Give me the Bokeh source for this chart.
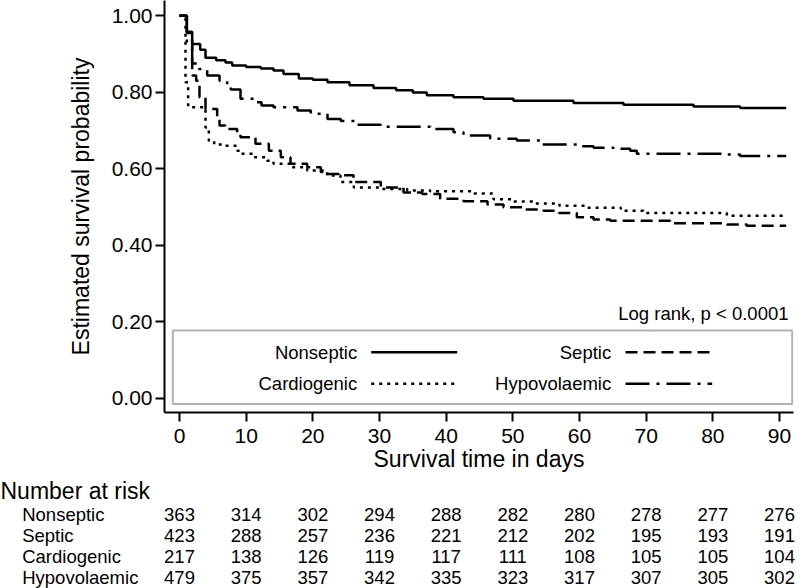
from bokeh.plotting import figure
from bokeh.models import Range1d, FixedTicker, PrintfTickFormatter, Label, BoxAnnotation, ColumnDataSource
from bokeh.layouts import column
from bokeh.embed import file_html
from bokeh.resources import INLINE
from bokeh.core.properties import value

# ---------------- data ----------------
groups = ["Nonseptic", "Septic", "Cardiogenic", "Hypovolaemic"]

nonseptic_days = [0, 1.1, 1.9, 3.1, 3.9, 5.5, 6.9, 7.9, 10.0, 12.2, 14.1, 15.6, 17.9, 20.0, 22.2, 25.5,
                  29.1, 32.5, 35.0, 37.1, 41.1, 45.6, 50.1, 59.1, 66.6, 77.1, 84.1, 91]
nonseptic_surv = [1.0, 0.958, 0.926, 0.911, 0.890, 0.884, 0.878, 0.870, 0.866, 0.862, 0.857, 0.848, 0.836,
                  0.833, 0.826, 0.818, 0.811, 0.805, 0.799, 0.792, 0.787, 0.783, 0.778, 0.772, 0.767,
                  0.763, 0.759, 0.759]

septic_days = [0, 1.1, 1.9, 2.5, 3.0, 3.9, 5.65, 6.0, 6.9, 8.65, 9.15, 11.4, 13.4, 15.2, 16.65, 19.15,
               21.2, 21.9, 23.9, 26.1, 30.2, 33.6, 36.4, 39.1, 42.6, 46.2, 48.6, 51.4, 54.6, 56.9,
               59.6, 62.1, 64.6, 73.6, 82.1, 85.1, 91]
septic_surv = [1.0, 0.955, 0.844, 0.830, 0.787, 0.756, 0.734, 0.713, 0.704, 0.691, 0.682, 0.665, 0.647,
               0.630, 0.613, 0.604, 0.591, 0.586, 0.583, 0.565, 0.551, 0.538, 0.534, 0.521, 0.515,
               0.506, 0.499, 0.493, 0.490, 0.484, 0.473, 0.467, 0.464, 0.457, 0.454, 0.451, 0.451]

cardio_days = [0, 0.9, 1.3, 3.9, 4.4, 5.2, 6.65, 8.65, 9.15, 11.0, 13.15, 14.1, 16.65, 19.15, 22.15,
               24.15, 26.15, 30.2, 34.15, 37.6, 44.0, 47.1, 50.0, 53.1, 57.0, 61.2, 66.2, 69.6, 82.1, 91]
cardio_surv = [1.0, 0.826, 0.761, 0.708, 0.673, 0.663, 0.660, 0.647, 0.639, 0.630, 0.621, 0.613, 0.604,
               0.595, 0.582, 0.565, 0.551, 0.547, 0.543, 0.541, 0.535, 0.520, 0.514, 0.509, 0.503,
               0.498, 0.490, 0.484, 0.477, 0.477]

hypo_days = [0, 1.1, 1.9, 2.9, 4.15, 6.0, 7.15, 7.7, 9.15, 11.4, 12.3, 14.1, 17.7, 19.7, 22.2, 24.2,
             26.7, 30.2, 37.6, 41.1, 42.6, 46.6, 50.6, 54.1, 59.6, 62.1, 65.1, 67.6, 68.6, 82.1, 84.1, 91]
hypo_surv = [1.0, 0.93, 0.875, 0.861, 0.844, 0.830, 0.817, 0.807, 0.783, 0.774, 0.765, 0.761, 0.752,
             0.744, 0.730, 0.725, 0.715, 0.710, 0.704, 0.695, 0.687, 0.678, 0.674, 0.663, 0.659, 0.655,
             0.652, 0.647, 0.639, 0.637, 0.633, 0.633]

risk_days = [0, 10, 20, 30, 40, 50, 60, 70, 80, 90]
risk_nonseptic = [363, 314, 302, 294, 288, 282, 280, 278, 277, 276]
risk_septic = [423, 288, 257, 236, 221, 212, 202, 195, 193, 191]
risk_cardio = [217, 138, 126, 119, 117, 111, 108, 105, 105, 104]
risk_hypo = [479, 375, 357, 342, 335, 323, 317, 307, 305, 302]

y_ticks = [0.0, 0.2, 0.4, 0.6, 0.8, 1.0]

# ---------------- layout constants ----------------
FONT = "Liberation Sans"
W = 800
H1 = 475
H2 = 113
LEFT, RIGHT_B = 164, 7
FRAME_W = W - LEFT - RIGHT_B
FRAME_H = 412
KX = (779 - 179) / 90.0
X_START = -(179 - LEFT) / KX
X_END = X_START + FRAME_W / KX
KY = 397.5 - 15.3
Y_END = 1 + 15.3 / KY
Y_START = Y_END - FRAME_H / KY


def dx(tx):
    return X_START + (tx - LEFT) / KX


def dy(ty):
    return Y_END - ty / KY


p = figure(width=W, height=H1, x_range=Range1d(X_START, X_END), y_range=Range1d(Y_START, Y_END),
           output_backend="svg", toolbar_location=None,
           min_border_left=LEFT, min_border_right=RIGHT_B, min_border_top=0,
           min_border_bottom=H1 - FRAME_H)
p.frame_align = False
p.background_fill_color = "white"
p.border_fill_color = "white"
p.outline_line_color = None
p.xgrid.visible = False
p.ygrid.visible = False

p.xaxis.ticker = FixedTicker(ticks=risk_days)
p.yaxis.ticker = FixedTicker(ticks=y_ticks)
p.yaxis.formatter = PrintfTickFormatter(format="%.2f")
p.xaxis.axis_label = "Survival time in days"
p.yaxis.axis_label = "Estimated survival probability"
for ax in (p.xaxis[0], p.yaxis[0]):
    ax.axis_line_width = 2
    ax.axis_line_color = "black"
    ax.major_tick_line_width = 2
    ax.major_tick_line_color = "black"
    ax.major_tick_in = 0
    ax.major_tick_out = 9
    ax.minor_tick_line_color = None
    ax.major_label_text_font = FONT
    ax.major_label_text_font_size = "21px"
    ax.major_label_text_color = "black"
    ax.axis_label_text_font = FONT
    ax.axis_label_text_font_size = "23px"
    ax.axis_label_text_font_style = "normal"
    ax.axis_label_text_color = "black"
p.xaxis.major_label_standoff = 7
p.xaxis.axis_label_standoff = 0
p.yaxis.major_label_standoff = 3
p.yaxis.axis_label_standoff = 15

styles = {
    "Nonseptic": "solid",
    "Septic": "12 6",
    "Cardiogenic": "3 5",
    "Hypovolaemic": "24 7 3 7",
}
series = {
    "Nonseptic": (nonseptic_days, nonseptic_surv),
    "Septic": (septic_days, septic_surv),
    "Cardiogenic": (cardio_days, cardio_surv),
    "Hypovolaemic": (hypo_days, hypo_surv),
}
for g in groups:
    xs, ys = series[g]
    p.step(x=xs, y=ys, mode="after", line_color="black", line_width=2.5, line_dash=styles[g])

# legend box (label left, sample right)
box = BoxAnnotation(left=dx(172.3), right=dx(791.7), top=dy(330), bottom=dy(403.5),
                    fill_color=None, fill_alpha=0, line_color="black", line_width=2)
p.add_layout(box)
legend_pos = {
    "Nonseptic": (356.7, 370.7, 456.7, 351.7),
    "Septic": (610.7, 625.0, 711.7, 351.7),
    "Cardiogenic": (356.7, 370.7, 455.0, 383.3),
    "Hypovolaemic": (610.7, 625.0, 711.7, 383.3),
}
for g in groups:
    lx, s0, s1, ly = legend_pos[g]
    p.add_layout(Label(x=dx(lx), y=dy(ly), text=g, text_align="right", text_baseline="middle",
                       text_font=FONT, text_font_size="18.5px", text_color="black"))
    p.line(x=[dx(s0), dx(s1)], y=[dy(ly), dy(ly)], line_color="black", line_width=2.5,
           line_dash=styles[g])

p.add_layout(Label(x=dx(788), y=dy(313), text="Log rank, p < 0.0001", text_align="right",
                   text_baseline="middle", text_font=FONT, text_font_size="18.5px", text_color="black"))

# ---------------- number at risk table ----------------
ROW0 = 39.0
ROWSTEP = 21.1
X2_START = X_START - LEFT / KX
X2_END = X_END + RIGHT_B / KX


def dx2(tx):
    return X2_START + tx / KX


p2 = figure(width=W, height=H2, x_range=Range1d(X2_START, X2_END),
            y_range=Range1d((H2 - ROW0) / ROWSTEP, -ROW0 / ROWSTEP),
            output_backend="svg", toolbar_location=None,
            min_border_left=0, min_border_right=0, min_border_top=0, min_border_bottom=0,
            x_axis_type=None, y_axis_type=None)
p2.frame_align = False
p2.outline_line_color = None
p2.background_fill_color = "white"
p2.border_fill_color = "white"
p2.xgrid.visible = False
p2.ygrid.visible = False

risk_rows = [risk_nonseptic, risk_septic, risk_cardio, risk_hypo]
xs, ys, ts = [], [], []
for i, row in enumerate(risk_rows):
    for d, n in zip(risk_days, row):
        xs.append(d)
        ys.append(i)
        ts.append(str(n))
src = ColumnDataSource(dict(x=xs, y=ys, text=ts))
p2.text(x="x", y="y", text="text", source=src, text_align="center", text_baseline="middle",
        text_font=value(FONT), text_font_size="18.5px", text_color="black")

lab_src = ColumnDataSource(dict(x=[dx2(21.7)] * len(groups), y=list(range(len(groups))), text=groups))
p2.text(x="x", y="y", text="text", source=lab_src, text_align="left", text_baseline="middle",
        text_font=value(FONT), text_font_size="18.5px", text_color="black")

p2.text(x=[dx2(0)], y=[(15.0 - ROW0) / ROWSTEP], text=["Number at risk"], text_align="left",
        text_baseline="middle", text_font=value(FONT), text_font_size="23px", text_color="black")

layout = column(p, p2, spacing=0)
open("out.html", "w").write(file_html(layout, INLINE))
